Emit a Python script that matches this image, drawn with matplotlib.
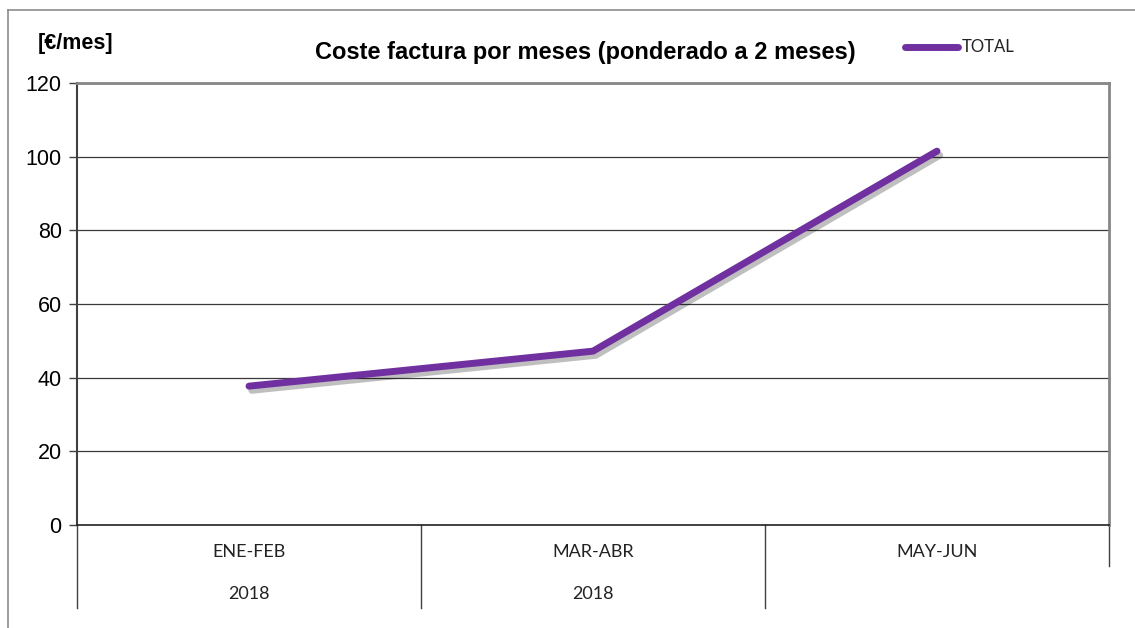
import matplotlib
matplotlib.use("Agg")
import matplotlib.pyplot as plt
import matplotlib.patheffects as pe
from matplotlib.transforms import blended_transform_factory

categories = ["ENE-FEB", "MAR-ABR", "MAY-JUN"]
years = ["2018", "2018", ""]
total = [37.7, 47.2, 101.5]
yticks = [0, 20, 40, 60, 80, 100, 120]

W, H = 1135, 628
fig = plt.figure(figsize=(W / 100, H / 100), dpi=100)
fig.patch.set_facecolor("white")

# outer frame lines
fig.add_artist(plt.Line2D([8 / W, 8 / W], [0, 1 - 10 / H], color="#8c8c8c", lw=1.2))
fig.add_artist(plt.Line2D([8 / W, 1], [1 - 10 / H, 1 - 10 / H], color="#8c8c8c", lw=1.2))

L, R, T, B = 77, 1109, 83, 525
ax = fig.add_axes([L / W, (H - B) / H, (R - L) / W, (B - T) / H])

x = list(range(len(categories)))
ax.plot(x, total, color="#7030A0", lw=5, solid_capstyle="round", solid_joinstyle="round",
        path_effects=[pe.SimpleLineShadow(offset=(2, -3), shadow_color="black", alpha=0.25),
                      pe.Normal()], zorder=5)

ax.set_xlim(-0.5, len(categories) - 0.5)
ax.set_ylim(0, 120)
ax.set_yticks(yticks)
ax.set_yticklabels([str(v) for v in yticks], fontfamily="Liberation Sans", fontsize=15.5)
ax.tick_params(axis="y", direction="out", length=6, width=1, color="#404040", pad=5)
ax.set_xticks([])
for v in yticks[1:]:
    ax.axhline(v, color="#3a3a3a", lw=0.9, zorder=1)
ax.spines["top"].set_color("#868686")
ax.spines["top"].set_linewidth(2)
ax.spines["right"].set_color("#868686")
ax.spines["right"].set_linewidth(2)
ax.spines["left"].set_color("#404040")
ax.spines["left"].set_linewidth(1.5)
ax.spines["bottom"].set_color("#202020")
ax.spines["bottom"].set_linewidth(1.2)

# category table below axis
tr = blended_transform_factory(ax.transData, ax.transAxes)
y_row1 = -(566 - B) / (B - T)
y_row2 = -(608 - B) / (B - T)
n = len(categories)
for i in range(n + 1):
    xb = i - 0.5
    yend = y_row1 if i == n else y_row2
    ax.plot([xb, xb], [0, yend], transform=tr, color="#404040", lw=1, clip_on=False)
for i, (c, yr) in enumerate(zip(categories, years)):
    ax.text(i, -(552 - B) / (B - T), c, transform=tr, ha="center", va="center",
            fontfamily="Lato", fontsize=13, color="#222222")
    if yr:
        ax.text(i, -(594 - B) / (B - T), yr, transform=tr, ha="center", va="center",
                fontfamily="Lato", fontsize=13, color="#222222")

# title, unit, legend
fig.text(585 / W, 1 - 52 / H, "Coste factura por meses (ponderado a 2 meses)",
         ha="center", va="center", fontfamily="Liberation Sans", fontweight="bold", fontsize=17)
fig.text(38 / W, 1 - 43 / H, "[€/mes]", ha="left", va="center",
         fontfamily="Liberation Sans", fontweight="bold", fontsize=15.5)
fig.add_artist(plt.Line2D([905 / W, 958 / W], [1 - 47 / H, 1 - 47 / H], color="#7030A0",
                          lw=5, solid_capstyle="round"))
fig.text(962 / W, 1 - 47 / H, "TOTAL", ha="left", va="center", fontfamily="Lato",
         fontsize=12, color="#222222")

fig.savefig("out.png", dpi=100, facecolor="white")
